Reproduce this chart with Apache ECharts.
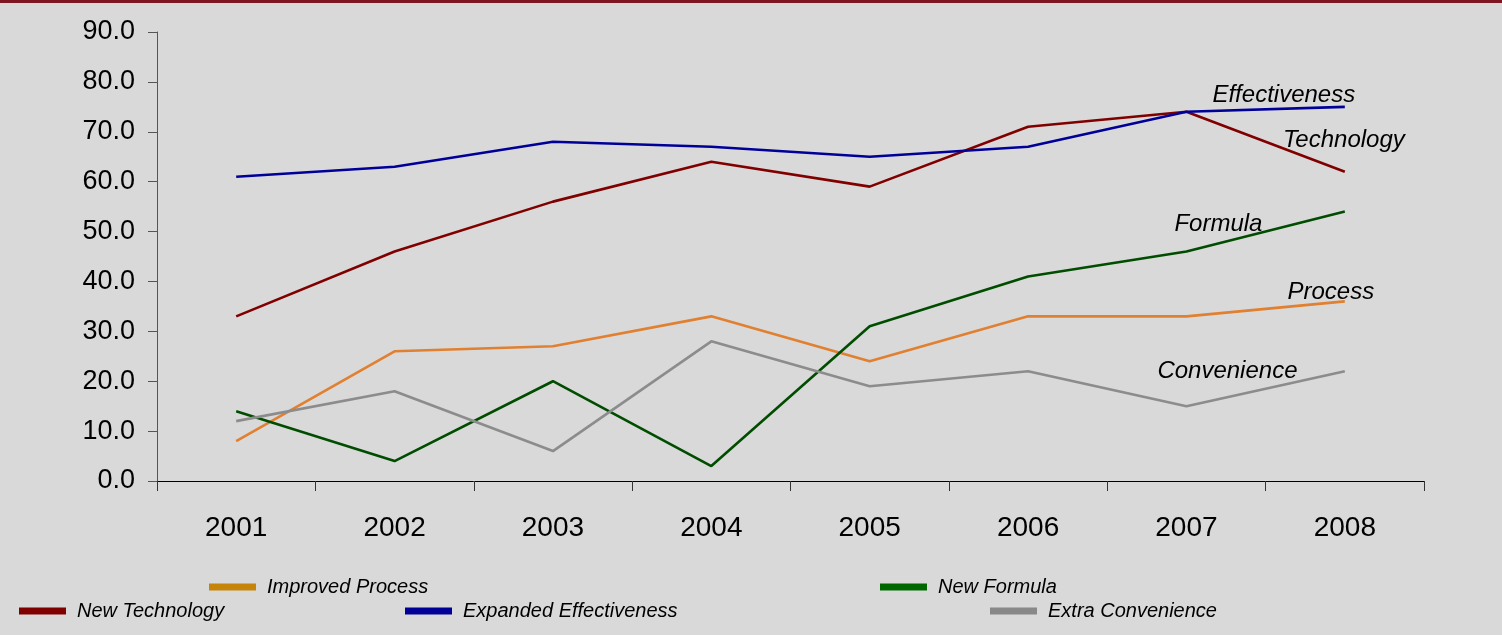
<!DOCTYPE html>
<html><head><meta charset="utf-8">
<script src="https://cdn.jsdelivr.net/npm/echarts@6/dist/echarts.min.js"></script>
<style>html,body{margin:0;padding:0;background:#d9d9d9}#c{width:1502px;height:635px}</style>
</head><body><div id="c"></div>
<script>
const years = ['2001','2002','2003','2004','2005','2006','2007','2008'];
const newTechnology = [33, 46, 56, 64, 59, 71, 74, 62];
const expandedEffectiveness = [61, 63, 68, 67, 65, 67, 74, 75];
const improvedProcess = [8, 26, 27, 33, 24, 33, 33, 36];
const newFormula = [14, 4, 20, 3, 31, 41, 46, 54];
const extraConvenience = [12, 18, 6, 28, 19, 22, 15, 22];
const seriesNames = ['New Technology','Improved Process','Expanded Effectiveness','New Formula','Extra Convenience'];
const shortLabels = ['Technology','Process','Effectiveness','Formula','Convenience'];

const chart = echarts.init(document.getElementById('c'));
const lblFont = {fontFamily:'Liberation Sans, Arial, sans-serif', fontStyle:'italic', fontSize:24, color:'#000'};
function anno(text, cat, val, off){
  return {coord:[cat, val], symbol:'circle', symbolSize:0,
    label:Object.assign({show:true, formatter:text, position:'inside', offset:off}, lblFont)};
}
function mkLegend(name, color, left, top){
  return {data:[{name:name, itemStyle:{color:color}}], left:left, top:top, icon:'rect',
    itemWidth:47, itemHeight:7, itemGap:10, selectedMode:false, padding:0,
    textStyle:{fontFamily:'Liberation Sans, Arial, sans-serif', fontStyle:'italic', fontSize:20, color:'#000', padding:[0,0,0,6]}};
}
const lineCommon = {type:'line', symbol:'none', lineStyle:{width:2.6}, animation:false};
chart.setOption({
  backgroundColor:'#d9d9d9',
  animation:false,
  grid:{left:157, right:78, top:32, bottom:154},
  xAxis:{type:'category', data:years, boundaryGap:true,
    axisLine:{lineStyle:{color:'#000', width:1}},
    axisTick:{show:true, length:10, lineStyle:{color:'#333'}},
    axisLabel:{fontFamily:'Liberation Sans, Arial, sans-serif', fontSize:28, color:'#000', margin:33}},
  yAxis:{type:'value', min:0, max:90, interval:10,
    splitLine:{show:false},
    axisLine:{show:true, lineStyle:{color:'#555'}},
    axisTick:{show:true, length:9, lineStyle:{color:'#555'}},
    axisLabel:{fontFamily:'Liberation Sans, Arial, sans-serif', fontSize:27, color:'#000', margin:22,
      formatter:v=>v.toFixed(1)}},
  legend:[
    mkLegend(seriesNames[0], '#800000', 19, 601),
    mkLegend(seriesNames[1], '#c5850a', 209, 577),
    mkLegend(seriesNames[2], '#000099', 405, 601),
    mkLegend(seriesNames[3], '#006600', 880, 577),
    mkLegend(seriesNames[4], '#888888', 990, 601)
  ],
  graphic:[{type:'rect', left:0, top:0, shape:{width:1502, height:3}, style:{fill:'#7f1522'}, silent:true}],
  series:[
    Object.assign({}, lineCommon, {name:seriesNames[0], data:newTechnology, color:'#800000',
      markPoint:{data:[anno(shortLabels[0], '2008', newTechnology[7], [-1,-31])]}}),
    Object.assign({}, lineCommon, {name:seriesNames[1], data:improvedProcess, color:'#e08030',
      markPoint:{data:[anno(shortLabels[1], '2008', improvedProcess[7], [-14,-9])]}}),
    Object.assign({}, lineCommon, {name:seriesNames[2], data:expandedEffectiveness, color:'#000099',
      markPoint:{data:[anno(shortLabels[2], '2008', expandedEffectiveness[7], [-61,-12])]}}),
    Object.assign({}, lineCommon, {name:seriesNames[3], data:newFormula, color:'#004d00',
      markPoint:{data:[anno(shortLabels[3], '2007', newFormula[6], [32,-27])]}}),
    Object.assign({}, lineCommon, {name:seriesNames[4], data:extraConvenience, color:'#8c8c8c',
      markPoint:{data:[anno(shortLabels[4], '2007', extraConvenience[6], [41,-35])]}})
  ]
});
</script></body></html>
